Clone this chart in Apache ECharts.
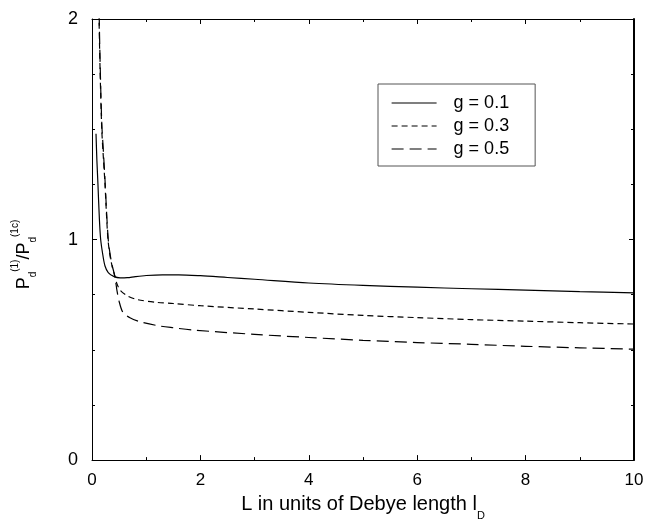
<!DOCTYPE html>
<html>
<head>
<meta charset="utf-8">
<script src="https://cdn.jsdelivr.net/npm/echarts@6/dist/echarts.min.js"></script>
<style>
html,body{margin:0;padding:0;background:#fff;}
#chart{width:647px;height:526px;}
</style>
</head>
<body>
<div id="chart"></div>
<script>
// Data
var seriesNames = ['g = 0.1', 'g = 0.3', 'g = 0.5'];

var xG01 = [0.074, 0.09, 0.11, 0.135, 0.16, 0.2, 0.24, 0.3, 0.4, 0.52, 0.65, 0.8, 1.0, 1.3, 1.6, 2.0, 2.5, 3, 4, 5, 6, 7, 8, 9, 10];
var yG01 = [1.48, 1.36, 1.25, 1.1, 1.0, 0.93, 0.88, 0.85, 0.833, 0.826, 0.827, 0.832, 0.837, 0.84, 0.84, 0.836, 0.828, 0.82, 0.803, 0.792, 0.784, 0.777, 0.771, 0.764, 0.758];

var xG03 = [0.11, 0.13, 0.15, 0.18, 0.21, 0.24, 0.27, 0.295, 0.33, 0.37, 0.42, 0.46, 0.52, 0.65, 0.83, 1.2, 1.5, 2, 3, 4, 5, 6, 7, 8, 9, 10];
var yG03 = [2.3, 2.0, 1.76, 1.5, 1.37, 1.25, 1.1, 1.0, 0.93, 0.88, 0.835, 0.8, 0.77, 0.745, 0.728, 0.715, 0.71, 0.70, 0.685, 0.67, 0.656, 0.646, 0.637, 0.63, 0.623, 0.617];

var xG05 = [0.11, 0.13, 0.15, 0.18, 0.21, 0.24, 0.27, 0.3, 0.33, 0.37, 0.42, 0.46, 0.5, 0.57, 0.7, 0.89, 1.2, 1.5, 1.86, 3, 4, 5, 6, 7, 8, 9, 10];
var yG05 = [2.35, 2.05, 1.8, 1.53, 1.4, 1.27, 1.12, 1.0, 0.94, 0.885, 0.835, 0.77, 0.72, 0.67, 0.645, 0.627, 0.61, 0.60, 0.59, 0.57, 0.556, 0.543, 0.533, 0.525, 0.516, 0.509, 0.503];

function pairs(xs, ys) {
  var out = [];
  for (var i = 0; i < xs.length; i++) out.push([xs[i], ys[i]]);
  return out;
}

var FONT = '"Liberation Sans", Arial, Helvetica, sans-serif';
var chart = echarts.init(document.getElementById('chart'), null, {renderer: 'canvas'});

function axisBase(split, lineWidth) {
  return {
    axisLine: {show: true, onZero: false, lineStyle: {color: '#000', width: lineWidth || 1}},
    axisTick: {show: true, inside: true, length: 5, lineStyle: {color: '#000', width: 1}},
    minorTick: {show: true, splitNumber: split, length: 3, lineStyle: {color: '#000', width: 1}},
    splitLine: {show: false},
    minorSplitLine: {show: false}
  };
}

var option = {
  backgroundColor: '#fff',
  animation: false,
  textStyle: {fontFamily: FONT},
  grid: {left: 92, right: 13, top: 19, bottom: 54, containLabel: false},
  legend: {
    orient: 'vertical',
    left: 378,
    top: 84,
    data: seriesNames,
    itemWidth: 45,
    itemHeight: 14,
    itemGap: 5,
    padding: [10, 26, 8, 13],
    borderColor: '#555',
    borderWidth: 1,
    itemStyle: {opacity: 0, borderWidth: 0},
    lineStyle: {width: 1.2},
    textStyle: {fontSize: 18, color: '#000', fontFamily: FONT, padding: [0, 0, 0, 12]}
  },
  xAxis: [
    Object.assign({
      type: 'value', position: 'bottom', min: 0, max: 10, interval: 2,
      axisLabel: {fontSize: 17, color: '#000', margin: 12, fontFamily: FONT},
      name: 'L in units of Debye length l{sub|D}',
      nameLocation: 'middle',
      nameGap: 31,
      nameTextStyle: {fontSize: 20, color: '#000', fontFamily: FONT,
        rich: {sub: {fontSize: 11, color: '#000', fontFamily: FONT, verticalAlign: 'bottom', padding: [0, 0, -7, 0]}}}
    }, axisBase(2)),
    Object.assign({
      type: 'value', position: 'top', min: 0, max: 10, interval: 2,
      axisLabel: {show: false}
    }, axisBase(2))
  ],
  yAxis: [
    Object.assign({
      type: 'value', position: 'left', min: 0, max: 2, interval: 1,
      axisLabel: {fontSize: 18, color: '#000', margin: 14, fontFamily: FONT},
      name: 'P{sub|d}{sup|(1)}/P{sub|d}{sup|(1c)}',
      nameLocation: 'middle',
      nameRotate: 90,
      nameGap: 54,
      nameTextStyle: {fontSize: 18, color: '#000', fontFamily: FONT, lineHeight: 28, padding: [0, 30, 0, 0],
        rich: {
          sub: {fontSize: 10, color: '#000', fontFamily: FONT, verticalAlign: 'bottom', lineHeight: 28},
          sup: {fontSize: 10, color: '#000', fontFamily: FONT, verticalAlign: 'top', lineHeight: 28}
        }}
    }, axisBase(4)),
    Object.assign({
      type: 'value', position: 'right', min: 0, max: 2, interval: 1,
      axisLabel: {show: false}
    }, axisBase(4, 2))
  ],
  series: [
    {
      name: seriesNames[0], type: 'line', xAxisIndex: 0, yAxisIndex: 0,
      data: pairs(xG01, yG01), smooth: 0.3, symbol: 'none', clip: true,
      lineStyle: {color: '#000', width: 1.2, type: 'solid'},
      itemStyle: {color: '#000'}
    },
    {
      name: seriesNames[1], type: 'line', xAxisIndex: 0, yAxisIndex: 0,
      data: pairs(xG03, yG03), smooth: 0.3, symbol: 'none', clip: true,
      lineStyle: {color: '#000', width: 1.2, type: [6, 4]},
      itemStyle: {color: '#000'}
    },
    {
      name: seriesNames[2], type: 'line', xAxisIndex: 0, yAxisIndex: 0,
      data: pairs(xG05, yG05), smooth: 0.3, symbol: 'none', clip: true,
      lineStyle: {color: '#000', width: 1.2, type: [12, 6]},
      itemStyle: {color: '#000'}
    }
  ]
};
chart.setOption(option);
</script>
</body>
</html>
